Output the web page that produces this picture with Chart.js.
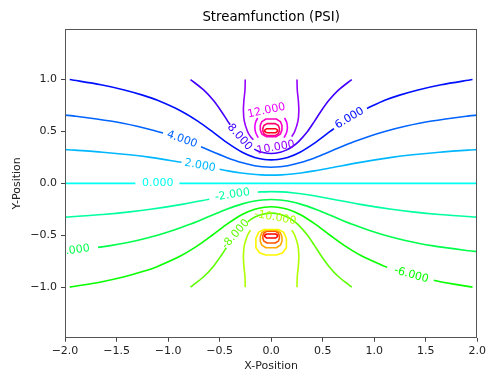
<!DOCTYPE html>
<html><head><meta charset="utf-8">
<script src="https://cdn.jsdelivr.net/npm/chart.js@4.4.1/dist/chart.umd.min.js"></script>
<style>html,body{margin:0;padding:0;background:#fff;}canvas{display:block;}</style>
</head><body>
<canvas id="c" width="489" height="376"></canvas>
<script>
// ---------- tick labels ----------
const xTicks = [-2, -1.5, -1, -0.5, 0, 0.5, 1, 1.5, 2];
const yTicks = [-1, -0.5, 0, 0.5, 1];

// ---------- contour levels (PSI) ----------
const levels = [-18, -16, -14, -12, -10, -8, -6, -4, -2, 0, 2, 4, 6, 8, 10, 12, 14, 16, 18];

// ---------- contour paths: [x, y] (segments split at label gaps) ----------
const psi0 = [
  [[-2.0, 0], [-1.317, 0]],
  [[-0.89, 0], [2.0, 0]]
];
const psiP2 = [
  [[-2.0,0.325],[-1.9121,0.32],[-1.634,0.3],[-1.3733,0.275],[-1.169,0.25],[-0.87,0.203]],
  [[-0.5,0.135],[-0.4187,0.12],[-0.2886,0.1],[-0.2036,0.09],[-0.1,0.0821],[0,0.0795],[0.1,0.0821],[0.2036,0.09],[0.2886,0.1],[0.4187,0.12],[0.5831,0.15],[0.8505,0.2],[1.169,0.25],[1.3733,0.275],[1.634,0.3],[1.9121,0.32],[2.0,0.325]]
];
const psiN2 = [
  [[-2.0,-0.325],[-1.9121,-0.32],[-1.634,-0.3],[-1.3733,-0.275],[-1.169,-0.25],[-0.8505,-0.2],[-0.6,-0.153]],
  [[-0.13,-0.0844],[-0.1,-0.0821],[0,-0.0795],[0.1,-0.0821],[0.2036,-0.09],[0.2886,-0.1],[0.4187,-0.12],[0.5831,-0.15],[0.8505,-0.2],[1.169,-0.25],[1.3733,-0.275],[1.634,-0.3],[1.9121,-0.32],[2.0,-0.325]]
];
const psiP4 = [
  [[-2.0,0.657],[-1.9218,0.65],[-1.5589,0.6],[-1.3012,0.55],[-1.1029,0.5],[-1.05,0.484]],
  [[-0.68,0.352],[-0.556,0.3],[-0.4324,0.25],[-0.2871,0.2],[-0.1604,0.17],[-0.0874,0.16],[0,0.1557],[0.0874,0.16],[0.1604,0.17],[0.2871,0.2],[0.4324,0.25],[0.556,0.3],[0.6761,0.35],[0.8018,0.4],[0.9409,0.45],[1.1029,0.5],[1.3012,0.55],[1.5589,0.6],[1.9218,0.65],[2.0,0.657]]
];
const psiN4 = [
  [[-1.68,-0.617],[-1.5589,-0.6],[-1.3012,-0.55],[-1.1029,-0.5],[-0.9409,-0.45],[-0.8018,-0.4],[-0.6761,-0.35],[-0.556,-0.3],[-0.4324,-0.25],[-0.2871,-0.2],[-0.1604,-0.17],[-0.0874,-0.16],[0,-0.1557],[0.0874,-0.16],[0.1604,-0.17],[0.2871,-0.2],[0.4324,-0.25],[0.556,-0.3],[0.6761,-0.35],[0.8018,-0.4],[0.9409,-0.45],[1.1029,-0.5],[1.3012,-0.55],[1.5589,-0.6],[1.9218,-0.65],[2.0,-0.657]]
];
const psiP6 = [
  [[-1.954,1.0],[-1.6512,0.95],[-1.4247,0.9],[-1.2468,0.85],[-1.1025,0.8],[-0.8802,0.7],[-0.7122,0.6],[-0.5721,0.5],[-0.4386,0.4],[-0.2807,0.3],[-0.1595,0.25],[-0.0656,0.23],[0,0.226],[0.0656,0.23],[0.1595,0.25],[0.2807,0.3],[0.4386,0.4],[0.5721,0.5],[0.61,0.527]],
  [[0.93,0.722],[1.1025,0.8],[1.2468,0.85],[1.4247,0.9],[1.6512,0.95],[1.954,1.0]]
];
const psiN6 = [
  [[-1.954,-1.0],[-1.6512,-0.95],[-1.4247,-0.9],[-1.2468,-0.85],[-1.1025,-0.8],[-0.8802,-0.7],[-0.7122,-0.6],[-0.5721,-0.5],[-0.4386,-0.4],[-0.2807,-0.3],[-0.1595,-0.25],[-0.0656,-0.23],[0,-0.226],[0.0656,-0.23],[0.1595,-0.25],[0.2807,-0.3],[0.4386,-0.4],[0.5721,-0.5],[0.7122,-0.6],[0.8802,-0.7],[1.1025,-0.8],[1.126,-0.808]],
  [[1.578,-0.934],[1.6512,-0.95],[1.954,-1.0]]
];
const psiP8 = [
  [[-0.7823,1.0],[-0.6551,0.9],[-0.561,0.8],[-0.4871,0.7],[-0.4217,0.6],[-0.3977,0.565]],
  [[-0.164,0.33],[-0.1457,0.32],[-0.0902,0.3],[0,0.2871],[0.0902,0.3],[0.1457,0.32],[0.2002,0.35],[0.2642,0.4],[0.353,0.5],[0.4217,0.6],[0.4871,0.7],[0.561,0.8],[0.6551,0.9],[0.7823,1.0]]
];
const psiN8 = [
  [[-0.7823,-1.0],[-0.6551,-0.9],[-0.561,-0.8],[-0.4871,-0.7],[-0.4348,-0.62]],
  [[-0.2258,-0.37],[-0.2002,-0.35],[-0.1457,-0.32],[-0.0902,-0.3],[0,-0.2871],[0.0902,-0.3],[0.1457,-0.32],[0.2002,-0.35],[0.2642,-0.4],[0.353,-0.5],[0.4217,-0.6],[0.4871,-0.7],[0.561,-0.8],[0.6551,-0.9],[0.7823,-1.0]]
];
const psiP10 = [
  [[-0.2511,1.0],[-0.2536,0.9],[-0.2639,0.8],[-0.2689,0.7],[-0.2602,0.6],[-0.2289,0.5],[-0.1999,0.45],[-0.173,0.42]],
  [[0.1999,0.45],[0.2289,0.5],[0.2602,0.6],[0.2689,0.7],[0.2639,0.8],[0.2536,0.9],[0.2511,1.0]]
];
const psiN10 = [
  [[-0.2511,-1.0],[-0.2536,-0.9],[-0.2639,-0.8],[-0.2689,-0.7],[-0.2602,-0.6],[-0.2289,-0.5],[-0.2,-0.45]],
  [[0.2,-0.45],[0.2289,-0.5],[0.2602,-0.6],[0.2689,-0.7],[0.2639,-0.8],[0.2536,-0.9],[0.2511,-1.0]]
];
const psiP12 = [
  [[-0.125,0.44],[-0.15,0.49],[-0.158,0.54],[-0.15,0.59],[-0.13,0.63]],
  [[0.125,0.44],[0.15,0.49],[0.158,0.54],[0.15,0.59],[0.13,0.63]]
];
const psiN12 = [
  [[-0.07,-0.445],[0.07,-0.445],[0.12,-0.47],[0.148,-0.53],[0.148,-0.62],[0.11,-0.67],[0.05,-0.69],[-0.05,-0.69],[-0.11,-0.67],[-0.148,-0.62],[-0.148,-0.53],[-0.12,-0.47],[-0.07,-0.445]]
];
const psiP14 = [
  [[-0.05,0.45],[0.05,0.45],[0.09,0.475],[0.105,0.515],[0.105,0.56],[0.09,0.595],[0.05,0.62],[-0.05,0.62],[-0.09,0.595],[-0.105,0.56],[-0.105,0.515],[-0.09,0.475],[-0.05,0.45]]
];
const psiN14 = [
  [[-0.05,-0.45],[0.05,-0.45],[0.09,-0.475],[0.105,-0.515],[0.105,-0.56],[0.09,-0.595],[0.05,-0.62],[-0.05,-0.62],[-0.09,-0.595],[-0.105,-0.56],[-0.105,-0.515],[-0.09,-0.475],[-0.05,-0.45]]
];
const psiP16 = [
  [[-0.04,0.46],[0.04,0.46],[0.07,0.478],[0.08,0.505],[0.08,0.53],[0.07,0.557],[0.04,0.575],[-0.04,0.575],[-0.07,0.557],[-0.08,0.53],[-0.08,0.505],[-0.07,0.478],[-0.04,0.46]]
];
const psiN16 = [
  [[-0.04,-0.46],[0.04,-0.46],[0.07,-0.478],[0.08,-0.505],[0.08,-0.53],[0.07,-0.557],[0.04,-0.575],[-0.04,-0.575],[-0.07,-0.557],[-0.08,-0.53],[-0.08,-0.505],[-0.07,-0.478],[-0.04,-0.46]]
];
const psiP18 = [
  [[-0.045,0.488],[0.045,0.488],[0.062,0.5],[0.062,0.512],[0.045,0.526],[-0.045,0.526],[-0.062,0.512],[-0.062,0.5],[-0.045,0.488]]
];
const psiN18 = [
  [[-0.045,-0.488],[0.045,-0.488],[0.062,-0.5],[0.062,-0.512],[0.045,-0.526],[-0.045,-0.526],[-0.062,-0.512],[-0.062,-0.5],[-0.045,-0.488]]
];

// ---------- inline contour labels ----------
const labelText  = ['0.000','2.000','4.000','6.000','8.000','10.000','12.000','-2.000','-4.000','-6.000','-8.000','-10.000'];
const labelLevel = [0, 2, 4, 6, 8, 10, 12, -2, -4, -6, -8, -10];
const labelAnchorX = [-1.10, -0.69, -0.865, 0.76, -0.305, 0.045, -0.045, -0.375, -1.93, 1.36, -0.344, 0.04];
const labelAnchorY = [0.0, 0.171, 0.423, 0.628, 0.446, 0.345, 0.70, -0.11, -0.648, -0.882, -0.49, -0.33];
const labelAngle   = [0, 10.6, 19.8, -30.8, 48.4, -10, -12, -9, -7.8, 15.7, -48.4, 10];

// ---------- styling (hsv colormap sampled at each level) ----------
const levelColor = {
  '-18':'rgb(255,0,0)','-16':'rgb(255,84,0)','-14':'rgb(255,167,0)','-12':'rgb(251,247,0)',
  '-10':'rgb(175,255,0)','-8':'rgb(92,255,0)','-6':'rgb(8,255,0)','-4':'rgb(0,255,76)',
  '-2':'rgb(0,255,159)','0':'rgb(0,255,243)','2':'rgb(0,183,255)','4':'rgb(0,100,255)',
  '6':'rgb(0,16,255)','8':'rgb(68,0,255)','10':'rgb(151,0,255)','12':'rgb(235,0,255)',
  '14':'rgb(255,0,191)','16':'rgb(255,0,108)','18':'rgb(255,0,24)'
};

const contourSets = [
  [0, psi0, 0.3], [2, psiP2, 0.3], [-2, psiN2, 0.3], [4, psiP4, 0.3], [-4, psiN4, 0.3],
  [6, psiP6, 0.3], [-6, psiN6, 0.3], [8, psiP8, 0.3], [-8, psiN8, 0.3],
  [10, psiP10, 0.3], [-10, psiN10, 0.3], [12, psiP12, 0.3], [-12, psiN12, 0],
  [14, psiP14, 0], [-14, psiN14, 0], [16, psiP16, 0], [-16, psiN16, 0],
  [18, psiP18, 0], [-18, psiN18, 0]
];

const datasets = [];
contourSets.forEach(([lev, segs, tension]) => {
  segs.forEach(seg => {
    datasets.push({
      label: 'PSI ' + lev,
      data: seg.map(p => ({x: p[0], y: p[1]})),
      showLine: true,
      borderColor: levelColor[String(lev)],
      borderWidth: 1.6,
      pointRadius: 0,
      pointHoverRadius: 0,
      fill: false,
      tension: tension,
      borderCapStyle: 'butt',
      borderJoinStyle: 'round'
    });
  });
});

const FONT = 'DejaVu Sans';
const fmtTick = v => (v < 0 ? '\u2212' : '') + Math.abs(v).toFixed(1);

const extrasPlugin = {
  id: 'extras',
  afterDatasetsDraw(chart) {
    const {ctx, chartArea: a, scales: {x, y}} = chart;
    ctx.save();
    ctx.beginPath();
    ctx.rect(a.left, a.top, a.right - a.left, a.bottom - a.top);
    ctx.clip();
    ctx.font = '11px "' + FONT + '"';
    ctx.textAlign = 'center';
    ctx.textBaseline = 'middle';
    labelText.forEach((t, i) => {
      ctx.save();
      ctx.translate(x.getPixelForValue(labelAnchorX[i]), y.getPixelForValue(labelAnchorY[i]));
      ctx.rotate(labelAngle[i] * Math.PI / 180);
      ctx.fillStyle = levelColor[String(labelLevel[i])];
      ctx.fillText(t, 0, 0);
      ctx.restore();
    });
    ctx.restore();
  },
  afterDraw(chart) {
    const {ctx, chartArea: a} = chart;
    ctx.save();
    ctx.strokeStyle = '#555';
    ctx.lineWidth = 1;
    ctx.strokeRect(Math.round(a.left) + 0.5, Math.round(a.top) + 0.5,
                   Math.round(a.right - a.left) - 1, Math.round(a.bottom - a.top) - 1);
    ctx.fillStyle = '#000';
    ctx.font = '13.3px "' + FONT + '"';
    ctx.textAlign = 'center';
    ctx.textBaseline = 'alphabetic';
    ctx.fillText('Streamfunction (PSI)', (a.left + a.right) / 2, 21);
    ctx.restore();
  }
};

new Chart(document.getElementById('c'), {
  type: 'scatter',
  data: { datasets },
  options: {
    responsive: false,
    animation: false,
    devicePixelRatio: 1,
    events: [],
    layout: { padding: { left: 0, right: 10.3, top: 29, bottom: 0 } },
    plugins: { legend: { display: false }, tooltip: { enabled: false }, title: { display: false } },
    scales: {
      x: {
        type: 'linear', min: -2, max: 2,
        afterBuildTicks: s => { s.ticks = xTicks.map(v => ({ value: v })); },
        afterFit: s => { s.height = 38.3; },
        border: { display: false },
        grid: { drawOnChartArea: false, drawTicks: true, tickLength: 4, color: '#444', lineWidth: 1 },
        ticks: { color: '#222', font: { family: FONT, size: 11 }, padding: 3, maxRotation: 0, autoSkip: false, callback: v => fmtTick(v) },
        title: { display: true, text: 'X-Position', color: '#222', font: { family: FONT, size: 11 }, padding: { top: 0, bottom: 3 } }
      },
      y: {
        type: 'linear', min: -1.487, max: 1.487,
        afterBuildTicks: s => { s.ticks = yTicks.map(v => ({ value: v })); },
        afterFit: s => { s.width = 65; },
        border: { display: false },
        grid: { drawOnChartArea: false, drawTicks: true, tickLength: 4, color: '#444', lineWidth: 1 },
        ticks: { color: '#222', font: { family: FONT, size: 11 }, padding: 4, autoSkip: false, callback: v => fmtTick(v) },
        title: { display: true, text: 'Y-Position', color: '#222', font: { family: FONT, size: 11 }, padding: { top: 11, bottom: 0 } }
      }
    }
  },
  plugins: [extrasPlugin]
});
</script>
</body></html>
